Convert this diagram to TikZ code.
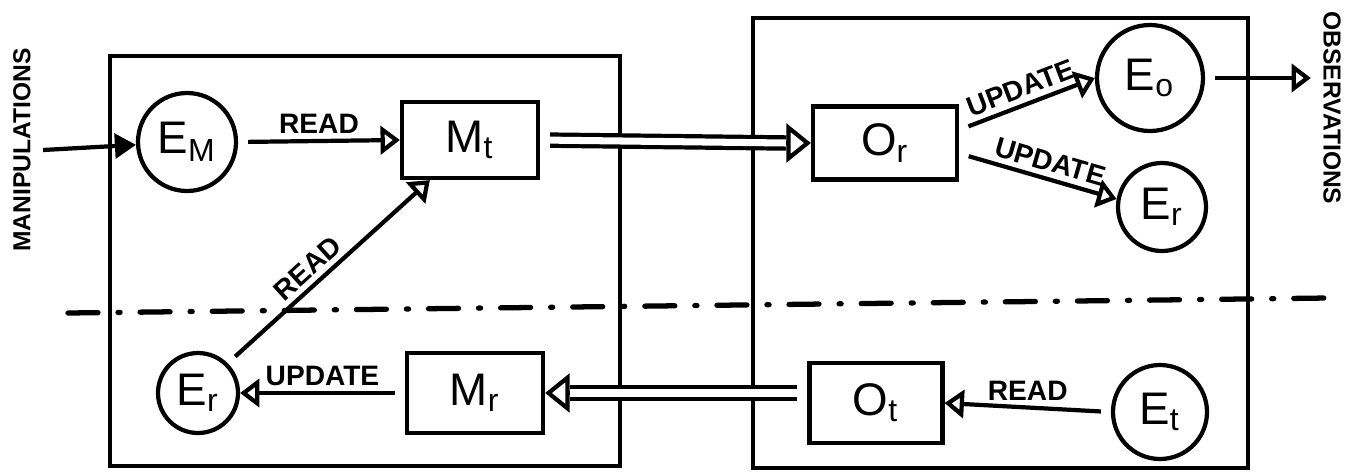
\documentclass[tikz,border=0pt]{standalone}
\usepackage{fontspec}
\setmainfont{Liberation Sans}
\usetikzlibrary{arrows.meta}

\begin{document}
\begin{tikzpicture}[x=1mm, y=-1mm,
  ent/.style={circle, draw, very thick, inner sep=0pt, font=\fontsize{13}{15}\selectfont},
  box/.style={rectangle, draw, very thick, minimum width=13.6mm, minimum height=7.6mm,
    font=\fontsize{13}{15}\selectfont},
  link/.style={very thick, shorten <=1mm, -{Triangle[open, length=5.5pt, width=8pt]}},
  dbl/.style={very thick, double, double distance=2pt, shorten <=1mm},
  dbltip/.style={very thick, -{Triangle[open, length=7pt, width=11pt]}},
  lbl/.style={font=\bfseries\fontsize{8}{9}\selectfont, inner sep=1.5pt},
  side/.style={font=\bfseries\fontsize{7}{8}\selectfont}]
  \useasboundingbox (0,0) rectangle (136.2,47.3);

  % the two halves and the dash-dot split
  \draw[very thick] (11,5.6) rectangle (62,46.6);
  \draw[very thick] (75.3,1.8) rectangle (124.8,46.8);
  \coordinate (sepl) at (6.8,31.3);
  \coordinate (sepr) at (132.8,29.8);
  \draw[line width=1.5pt, line cap=round, dash pattern=on 3mm off 2mm on 0.6pt off 2mm] (sepl) -- (sepr);

  % left half
  \node[ent, minimum size=9.8mm] (em) at (18.7,14.2) {E\textsubscript{M}};
  \node[box] (mt) at (47,14) {M\textsubscript{t}};
  \node[ent, minimum size=8mm] (el) at (19.8,39.3) {E\textsubscript{r}};
  \node[box, minimum height=8mm] (mr) at (47.5,39.3) {M\textsubscript{r}};

  % right half
  \node[box, minimum width=14.4mm, minimum height=7.3mm] (or) at (88.5,14.3) {O\textsubscript{r}};
  \node[ent, minimum size=10.6mm] (eo) at (115,7.8) {E\textsubscript{o}};
  \node[ent, minimum size=8.8mm] (er) at (116.2,20.7) {E\textsubscript{r}};
  \node[box, minimum width=13.3mm, minimum height=8mm] (ot) at (87.6,40.3) {O\textsubscript{t}};
  \node[ent, minimum size=9.4mm] (et) at (116,41.2) {E\textsubscript{t}};

  % outside
  \node[side, rotate=90] (manip) at (2.2,15) {MANIPULATIONS};
  \node[side, rotate=-90] (obs) at (133.2,10.8) {OBSERVATIONS};

  % reads and updates
  \draw[very thick, -{Triangle[length=6pt, width=7pt]}] (manip.south) -- (em);
  \draw[link] (em.east) -- node[lbl, above] {READ} (mt.west);
  \draw[link] (el.45) -- node[lbl, above, sloped, pos=0.45] {READ} (mt.-135);
  \draw[link] (mr.west) -- node[lbl, above] {UPDATE} (el.east);
  \draw[link] (or.10) -- node[lbl, above, sloped] {UPDATE} (eo.west);
  \draw[link] (or.-8) -- node[lbl, above, sloped, pos=0.55] {UPDATE} (er.170);
  \draw[link] (et.west) -- node[lbl, above] {READ} (ot.east);
  \draw[link] (eo.east) -- (obs.south |- eo.east);

  % double flows between the halves
  \draw[dbl] (mt.east) -- ([xshift=-7pt]or.west);
  \draw[dbltip] ([xshift=-7pt]or.west) -- (or.west);
  \draw[dbl] (ot.west |- mr.east) -- ([xshift=7pt]mr.east);
  \draw[dbltip] ([xshift=7pt]mr.east) -- (mr.east);
\end{tikzpicture}
\end{document}
